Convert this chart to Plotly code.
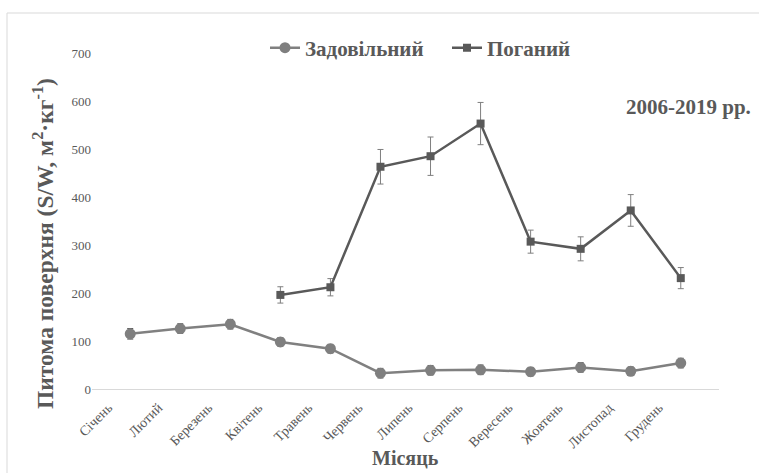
import plotly.graph_objects as go

months = ["Січень", "Лютий", "Березень", "Квітень", "Травень", "Червень",
          "Липень", "Серпень", "Вересень", "Жовтень", "Листопад", "Грудень"]

# Задовільний стан
good_vals = [115, 126, 135, 98, 84, 33, 39, 40, 36, 45, 37, 54]
good_err = [11, 10, 10, 9, 9, 10, 10, 10, 9, 10, 9, 10]

# Поганий стан (з квітня)
bad_vals = [None, None, None, 196, 212, 463, 485, 553, 307, 292, 372, 231]
bad_err = [None, None, None, 17, 18, 36, 40, 44, 24, 25, 33, 22]

y_ticks = [0, 100, 200, 300, 400, 500, 600, 700]
y_tick_labels = ["0", "100", "200", "300", "400", "500", "600", "700"]

SERIF = "Liberation Serif"
GREY = "#595959"

fig = go.Figure()

fig.add_trace(go.Scatter(
    x=months, y=good_vals, name="<b>Задовільний</b>", mode="lines+markers",
    line=dict(color="#808080", width=2.5),
    marker=dict(symbol="circle", size=11, color="#7f7f7f"),
    error_y=dict(type="data", array=good_err, visible=True,
                 color=GREY, thickness=1, width=3),
))

fig.add_trace(go.Scatter(
    x=months, y=bad_vals, name="<b>Поганий</b>", mode="lines+markers",
    line=dict(color=GREY, width=2.5),
    marker=dict(symbol="square", size=8, color=GREY),
    error_y=dict(type="data", array=bad_err, visible=True,
                 color="#7f7f7f", thickness=1, width=3),
    connectgaps=False,
))

W, H = 759, 473
L, R, T, B = 92, 40, 53, 84
pw, ph = W - L - R, H - T - B


def px_x(x):
    return (x - L) / pw


def px_y(y):
    return (H - B - y) / ph


fig.update_layout(
    template="none",
    width=W, height=H,
    margin=dict(l=L, r=R, t=T, b=B),
    paper_bgcolor="white", plot_bgcolor="white",
    font=dict(family=SERIF, color=GREY, size=12),
    showlegend=True,
    legend=dict(
        orientation="h", x=px_x(447), xanchor="center",
        y=px_y(48), yanchor="middle",
        font=dict(family=SERIF, size=21, color=GREY),
        tracegroupgap=0, bgcolor="rgba(0,0,0,0)",
        itemwidth=30, entrywidth=137, entrywidthmode="pixels",
    ),
    xaxis=dict(
        type="category", categoryorder="array", categoryarray=months,
        color=GREY,
        tickangle=-45, tickfont=dict(family=SERIF, size=14, color=GREY),
        ticklabelshift=-22, ticklabelstandoff=4,
        showline=True, linecolor="#d9d9d9", linewidth=1,
        showgrid=False, ticks="", zeroline=False,
    ),
    yaxis=dict(
        range=[0, 700], tickmode="array", tickvals=y_ticks, ticktext=y_tick_labels,
        color=GREY,
        tickfont=dict(family=SERIF, size=13, color=GREY),
        showline=False, showgrid=False, zeroline=False, ticks="",
    ),
    annotations=[
        dict(text="<b>2006-2019 рр.</b>", xref="paper", yref="paper",
             x=px_x(753), y=px_y(107), xanchor="right", yanchor="middle",
             showarrow=False, font=dict(family=SERIF, size=21, color=GREY)),
        dict(text="<b>Питома поверхня (S/W, м<sup>2</sup>·кг<sup>-1</sup>)</b>",
             xref="paper", yref="paper", x=px_x(43), y=px_y(244),
             xanchor="center", yanchor="middle", textangle=-90,
             showarrow=False, font=dict(family=SERIF, size=23.5, color=GREY)),
        dict(text="<b>Місяць</b>", xref="paper", yref="paper",
             x=px_x(405), y=px_y(471), xanchor="center", yanchor="bottom",
             showarrow=False, font=dict(family=SERIF, size=20, color=GREY)),
    ],
    shapes=[
        dict(type="line", xref="paper", yref="paper",
             x0=px_x(7), x1=px_x(W + 5), y0=px_y(13), y1=px_y(13),
             line=dict(color="#d9d9d9", width=1)),
        dict(type="line", xref="paper", yref="paper",
             x0=px_x(7), x1=px_x(7), y0=px_y(13), y1=px_y(H + 5),
             line=dict(color="#d9d9d9", width=1)),
    ],
)

fig.write_html("out.html")
